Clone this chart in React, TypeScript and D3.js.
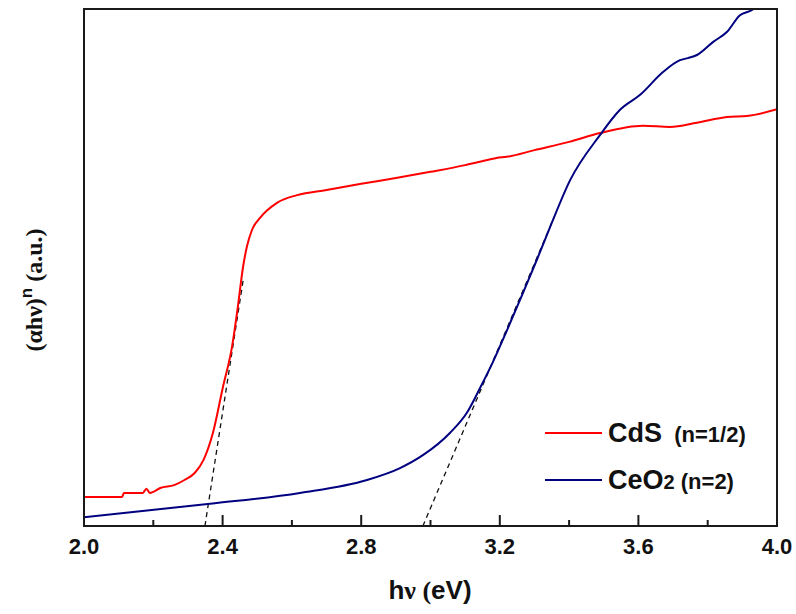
import React, { useEffect, useRef } from 'react';
import * as d3 from 'd3';

// CdS Tauc plot (n=1/2), arbitrary units
const cdsX = [2.0, 2.11, 2.115, 2.17, 2.18, 2.19, 2.2, 2.22, 2.26, 2.29, 2.32, 2.345, 2.372, 2.401, 2.427, 2.444, 2.459, 2.47, 2.485, 2.508, 2.557, 2.615, 2.7, 2.8, 2.9, 3.0, 3.1, 3.17, 3.19, 3.22, 3.3, 3.4, 3.489, 3.613, 3.691, 3.769, 3.856, 3.913, 4.0];
const cdsY = [0.056, 0.056, 0.064, 0.064, 0.072, 0.064, 0.066, 0.0735, 0.079, 0.089, 0.103, 0.128, 0.18, 0.269, 0.346, 0.424, 0.501, 0.54, 0.573, 0.596, 0.625, 0.64, 0.65, 0.662, 0.673, 0.685, 0.698, 0.709, 0.712, 0.714, 0.727, 0.743, 0.76, 0.774, 0.772, 0.78, 0.791, 0.793, 0.806];

// CeO2 Tauc plot (n=2)
const ceoX = [2.0, 2.364, 2.623, 2.817, 2.912, 2.978, 3.056, 3.105, 3.143, 3.18, 3.221, 3.267, 3.307, 3.345, 3.403, 3.489, 3.547, 3.605, 3.671, 3.72, 3.743, 3.769, 3.815, 3.856, 3.893, 3.928, 3.95];
const ceoY = [0.017, 0.043, 0.064, 0.089, 0.112, 0.137, 0.18, 0.219, 0.267, 0.317, 0.379, 0.451, 0.515, 0.578, 0.669, 0.756, 0.805, 0.834, 0.878, 0.901, 0.905, 0.911, 0.936, 0.956, 0.988, 0.998, 1.01];

// tangent (band-gap) extrapolation lines
const cdsFit = [[2.349, 0], [2.459, 0.474]];
const ceoFit = [[2.978, 0], [3.351, 0.588]];

const majorTicks = [2.0, 2.4, 2.8, 3.2, 3.6, 4.0];
const minorTicks = [2.2, 2.6, 3.0, 3.4, 3.8];

const W = 796;
const H = 614;
const margin = { top: 9, right: 19, bottom: 88, left: 84 };

export default function App() {
  const ref = useRef<SVGSVGElement>(null);

  useEffect(() => {
    const svg = d3.select(ref.current);
    svg.selectAll('*').remove();

    const iw = W - margin.left - margin.right;
    const ih = H - margin.top - margin.bottom;

    const x = d3.scaleLinear().domain([2.0, 4.0]).range([margin.left, margin.left + iw]);
    const y = d3.scaleLinear().domain([0, 1]).range([margin.top + ih, margin.top]);

    svg.append('defs').append('clipPath').attr('id', 'plot-clip')
      .append('rect')
      .attr('x', margin.left).attr('y', margin.top)
      .attr('width', iw).attr('height', ih);

    const line = d3.line<[number, number]>()
      .x(d => x(d[0]))
      .y(d => y(d[1]))
      .curve(d3.curveMonotoneX);

    const plot = svg.append('g').attr('clip-path', 'url(#plot-clip)');

    const cds = cdsX.map((v, i) => [v, cdsY[i]] as [number, number]);
    const ceo = ceoX.map((v, i) => [v, ceoY[i]] as [number, number]);

    // dashed fits
    const straight = d3.line<number[]>().x(d => x(d[0])).y(d => y(d[1]));
    [cdsFit, ceoFit].forEach(f => {
      plot.append('path')
        .attr('d', straight(f))
        .attr('fill', 'none')
        .attr('stroke', '#111')
        .attr('stroke-width', 1.3)
        .attr('stroke-dasharray', '5,4');
    });

    plot.append('path').attr('d', line(cds))
      .attr('fill', 'none').attr('stroke', '#ff0000').attr('stroke-width', 2);
    plot.append('path').attr('d', line(ceo))
      .attr('fill', 'none').attr('stroke', '#000080').attr('stroke-width', 2);

    // frame
    svg.append('rect')
      .attr('x', margin.left).attr('y', margin.top)
      .attr('width', iw).attr('height', ih)
      .attr('fill', 'none').attr('stroke', '#1a1a1a').attr('stroke-width', 2);

    // inward ticks on bottom axis
    const axis = svg.append('g');
    axis.selectAll('line.major').data(majorTicks).enter().append('line')
      .attr('x1', d => x(d)).attr('x2', d => x(d))
      .attr('y1', margin.top + ih).attr('y2', margin.top + ih - 11)
      .attr('stroke', '#1a1a1a').attr('stroke-width', 2);
    axis.selectAll('line.minor').data(minorTicks).enter().append('line')
      .attr('x1', d => x(d)).attr('x2', d => x(d))
      .attr('y1', margin.top + ih).attr('y2', margin.top + ih - 6)
      .attr('stroke', '#1a1a1a').attr('stroke-width', 2);
    axis.selectAll('text').data(majorTicks).enter().append('text')
      .attr('x', d => x(d))
      .attr('y', margin.top + ih + 28)
      .attr('text-anchor', 'middle')
      .attr('font-family', 'Liberation Sans, Arial, sans-serif')
      .attr('font-weight', 'bold')
      .attr('font-size', 22)
      .attr('fill', '#111')
      .text(d => d3.format('.1f')(d));

    // x label
    const xl = svg.append('text')
      .attr('x', 430).attr('y', 599)
      .attr('text-anchor', 'middle')
      .attr('font-weight', 'bold')
      .attr('font-size', 26)
      .attr('fill', '#111');
    xl.append('tspan').attr('font-family', 'Liberation Sans, Arial, sans-serif').text('h');
    xl.append('tspan').attr('font-family', 'Liberation Serif, Times New Roman, serif').text('ν (');
    xl.append('tspan').attr('font-family', 'Liberation Sans, Arial, sans-serif').text('eV)');

    // y label
    const yl = svg.append('text')
      .attr('transform', 'translate(42,290) rotate(-90)')
      .attr('text-anchor', 'middle')
      .attr('font-family', 'Liberation Serif, Times New Roman, serif')
      .attr('font-weight', 'bold')
      .attr('font-size', 24)
      .attr('fill', '#111');
    yl.append('tspan').text('(αhν)');
    yl.append('tspan').attr('dy', -10).attr('font-size', 17)
      .attr('font-family', 'Liberation Sans, Arial, sans-serif').text('n');
    yl.append('tspan').attr('dy', 10).text(' (a.u.)');

    // legend
    const legend = [
      { color: '#ff0000', y: 433, main: 'CdS', sub: '', note: '  (n=1/2)' },
      { color: '#000080', y: 480, main: 'CeO', sub: '2', note: ' (n=2)' },
    ];
    legend.forEach(l => {
      svg.append('line')
        .attr('x1', 545).attr('x2', 602)
        .attr('y1', l.y).attr('y2', l.y)
        .attr('stroke', l.color).attr('stroke-width', 2);
      const t = svg.append('text')
        .attr('x', 608).attr('y', l.y + 9)
        .attr('font-family', 'Liberation Sans, Arial, sans-serif')
        .attr('font-weight', 'bold')
        .attr('fill', '#111')
        .attr('xml:space', 'preserve')
        .style('white-space', 'pre');
      t.append('tspan').attr('font-size', 27).text(l.main);
      if (l.sub) t.append('tspan').attr('font-size', 20).text(l.sub);
      t.append('tspan').attr('font-size', 22).text(l.note);
    });
  }, []);

  return (
    <svg
      ref={ref}
      width={W}
      height={H}
      style={{ position: 'absolute', left: 0, top: 0, display: 'block', background: '#fff' }}
    />
  );
}
